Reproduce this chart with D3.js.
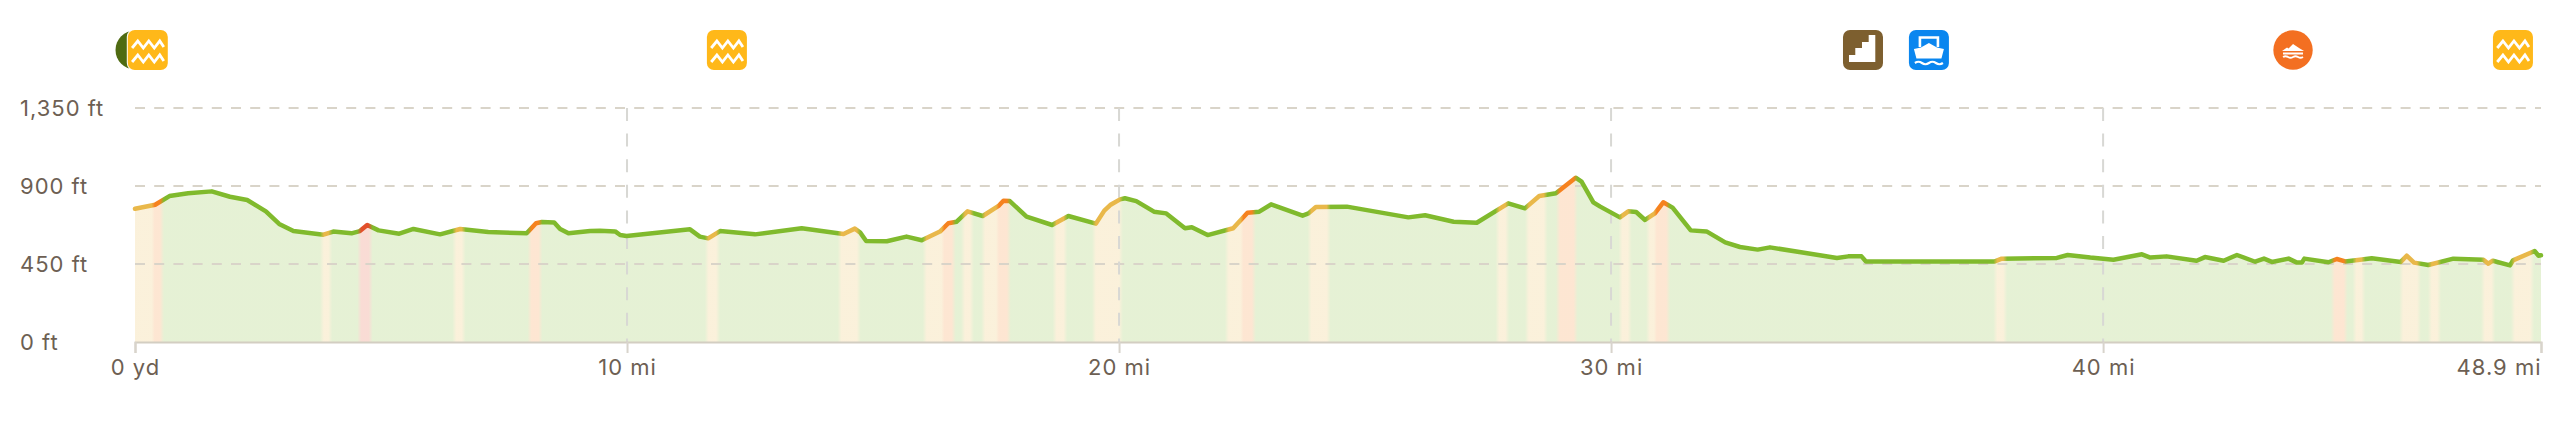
<!DOCTYPE html>
<html><head><meta charset="utf-8">
<script src="https://cdn.jsdelivr.net/npm/d3@7/dist/d3.min.js"></script>
<style>html,body{margin:0;padding:0;background:#fff}svg{display:block}text{font-family:Inter,"Open Sans",sans-serif;letter-spacing:1px}</style>
</head><body><svg id="c" width="2560" height="429"></svg>
<script>
const miles=[0,.41,.70,1.08,1.56,1.93,2.28,2.66,2.93,3.22,3.83,4.03,4.40,4.57,4.72,4.95,5.37,5.66,6.20,6.61,7.18,7.96,8.15,8.27,8.52,8.64,8.81,9.25,9.45,9.76,9.86,
9.99,11.28,11.48,11.65,11.89,12.60,13.55,14.40,14.63,14.74,14.86,15.28,15.68,15.99,16.36,16.53,16.70,16.92,17.23,17.55,17.65,17.78,18.12,18.64,18.97,19.53,19.70,19.82,
20.02,20.12,20.35,20.71,20.96,21.34,21.48,21.80,22.32,22.61,22.85,23.09,23.73,23.85,24.00,24.63,25.88,26.22,26.80,27.27,27.91,28.25,28.54,28.88,29.28,29.40,29.64,29.78,
30.18,30.35,30.51,30.69,30.89,31.06,31.25,31.62,31.94,32.32,32.62,32.98,33.23,34.59,34.82,35.09,35.18,36.55,37.80,37.94,39.06,39.28,39.74,
40.21,40.79,40.96,41.29,41.90,42.07,42.45,42.72,43.09,43.27,43.43,43.77,43.94,44.04,44.09,44.58,44.75,44.92,45.22,45.46,46.05,46.17,46.32,46.61,47.12,47.73,47.83,47.92,48.27,48.33,48.77,48.85,48.9];
const elevation=[769,792,842,858,869,838,819,754,681,640,619,637,627,640,675,644,625,652,621,652,635,627,685,692,690,652,627,640,642,638,617,
612,650,608,598,640,621,656,623,654,631,583,581,608,587,637,685,694,754,727,785,815,813,723,675,727,683,758,790,
823,829,813,752,742,656,662,617,656,746,752,794,729,742,779,781,719,731,694,688,800,771,842,858,948,925,806,781,
719,754,750,704,742,806,775,644,638,575,548,533,546,485,494,494,465,465,465,481,485,502,487,
475,506,487,494,469,490,469,502,463,481,462,481,458,458,481,460,479,465,475,483,462,498,458,444,481,475,452,469,442,471,525,498,500];
const bandStart=[0,.37,3.81,4.57,6.5,8.03,11.63,14.33,16.06,16.42,16.84,17.25,17.53,18.7,19.5,22.2,22.5,23.88,27.7,28.3,28.93,30.2,30.76,30.9,37.82,44.68,45.12,46.07,46.65,47.73,48.34];
const bandEnd=[.37,.54,3.96,4.78,6.67,8.23,11.84,14.70,16.42,16.63,17.0,17.53,17.75,18.9,20.03,22.5,22.73,24.25,27.88,28.66,29.27,30.37,30.9,31.15,38.0,44.92,45.28,46.41,46.82,47.92,48.71];
const bandGrade=[1,2,1,3,1,2,1,1,1,2,1,1,2,1,1,1,2,1,1,1,2,1,1,2,1,2,1,1,1,1,1];
const gradeColors=["#80ba2d","#e9b84a","#f6821f","#e2502c"];
const yTicks=[0,450,900,1350];
const xTicks=[0,10,20,30,40,48.9];
const markerMiles=[0,.26,12.03,35.12,36.46,43.86,48.33];
const markerKinds=["trail","water","water","stairs","ferry","boat","water"];

const svg=d3.select("#c");
const x=d3.scaleLinear().domain([0,48.9]).range([135,2541]);
const y=d3.scaleLinear().domain([0,1350]).range([342,108]);
const pts=miles.map((m,i)=>[m,elevation[i]]);
const defs=svg.append("defs");
function grad(id){
  const g=defs.append("linearGradient").attr("id",id).attr("gradientUnits","userSpaceOnUse")
    .attr("x1",x(0)).attr("x2",x(48.9)).attr("y1",0).attr("y2",0);
  const add=(m,c)=>g.append("stop").attr("offset",(m/48.9)).attr("stop-color",c);
  let last=0;
  bandStart.forEach((s,i)=>{
    const c=gradeColors[bandGrade[i]];
    if(s-last>.12){add(last+.05,gradeColors[0]);add(s-.05,gradeColors[0]);}
    add(s+.03,c);add(bandEnd[i]-.03,c);last=bandEnd[i];
  });
  add(last+.05,gradeColors[0]);add(48.9,gradeColors[0]);
}
grad("lineGrad");

const area=d3.area().x(d=>x(d[0])).y0(y(0)).y1(d=>y(d[1]));
const line=d3.line().x(d=>x(d[0])).y(d=>y(d[1]));
svg.append("path").attr("d",area(pts)).attr("fill","url(#lineGrad)").attr("fill-opacity",.2);

// grid
svg.append("g").selectAll("line").data(yTicks.slice(1)).join("line")
  .attr("x1",x(0)).attr("x2",x(48.9)).attr("y1",d=>y(d)).attr("y2",d=>y(d))
  .attr("stroke","#d9d4c9").attr("stroke-width",2).attr("stroke-dasharray","10 9.2");
svg.append("g").selectAll("line").data(xTicks.slice(1,-1)).join("line")
  .attr("x1",d=>x(d)).attr("x2",d=>x(d)).attr("y1",y(1350)).attr("y2",y(0))
  .attr("stroke","#d8d8d4").attr("stroke-width",2).attr("stroke-dasharray","13 12.6");

// axes
const xAxis=d3.axisBottom(x).tickValues(xTicks).tickSize(11).tickPadding(6)
  .tickFormat(d=>d===0?"0 yd":d+" mi");
const gx=svg.append("g").attr("transform",`translate(0,${y(0)})`).call(xAxis);
gx.select(".domain").attr("stroke","#d3cec2").attr("stroke-width",2);
gx.selectAll(".tick line").attr("stroke","#d8d4cc").attr("stroke-width",2);
gx.selectAll("text").attr("fill","#6d5f53").attr("font-size",22)
  .attr("text-anchor",d=>d===48.9?"end":"middle");
const yAxis=d3.axisLeft(y).tickValues(yTicks).tickSize(0).tickFormat(d=>d3.format(",")(d)+" ft");
const gy=svg.append("g").attr("transform","translate(20,0)").call(yAxis);
gy.select(".domain").remove();
gy.selectAll("text").attr("x",0).attr("text-anchor","start").attr("fill","#6d5f53").attr("font-size",22);

svg.append("path").attr("d",line(pts)).attr("fill","none").attr("stroke","url(#lineGrad)")
  .attr("stroke-width",4.5).attr("stroke-linejoin","round").attr("stroke-linecap","round");

// marker icons (40x40, local origin at top-left)
const zig=(yy)=>`M4.3,${yy}L10,${yy-7}L15.5,${yy}L21,${yy-7}L26.5,${yy}L32,${yy-7}L36,${yy-1}`;
const draw={
  trail(g){g.append("circle").attr("cx",20).attr("cy",20).attr("r",19.5).attr("fill","#4f6b12");},
  water(g){
    g.append("rect").attr("x",-1).attr("y",-1).attr("width",42).attr("height",42).attr("rx",8).attr("fill","#fff");
    g.append("rect").attr("width",40).attr("height",40).attr("rx",7).attr("fill","#ffb819");
    g.append("path").attr("d",zig(18)+zig(32)).attr("fill","none").attr("stroke","#fff").attr("stroke-width",2.8);
  },
  stairs(g){
    g.append("rect").attr("width",40).attr("height",40).attr("rx",7).attr("fill","#7d5f2f");
    g.append("path").attr("d","M6,32V25H12.3V18H19V12H25.7V5H32.3V32Z").attr("fill","#fff");
  },
  ferry(g){
    g.append("rect").attr("width",40).attr("height",40).attr("rx",7).attr("fill","#0a86ef");
    g.append("path").attr("d","M11,17V7.5H29V17").attr("fill","none").attr("stroke","#fff").attr("stroke-width",2.6);
    g.append("path").attr("d","M5,19L12,17.5L20,13L28,17.5L35,19L32.5,28.5H7.5Z").attr("fill","#fff");
    g.append("path").attr("d","M6,33Q9.5,30.5 13,33T20,33T27,33T34,33").attr("fill","none").attr("stroke","#fff").attr("stroke-width",2.2);
  },
  boat(g){
    g.append("circle").attr("cx",20).attr("cy",20).attr("r",19.7).attr("fill","#f36f21");
    g.append("path").attr("d","M9,21L14,17.5L15.5,18.5L20,14L26,18L31,21Z").attr("fill","#fff");
    g.append("path").attr("d","M10,23.5H30").attr("stroke","#fff").attr("stroke-width",2);
    g.append("path").attr("d","M10,27Q12.5,25.5 15,27T20,27T25,27T30,27").attr("fill","none").attr("stroke","#fff").attr("stroke-width",1.8);
  }
};
const iconTop=30;
markerMiles.forEach((m,i)=>{
  const g=svg.append("g").attr("transform",`translate(${x(m)-20},${iconTop})`);
  draw[markerKinds[i]](g);
});
</script></body></html>
